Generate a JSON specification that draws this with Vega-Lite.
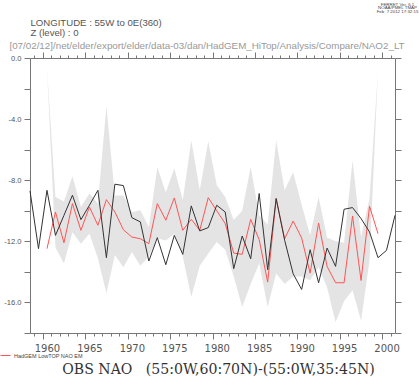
{
  "$schema": "https://vega.github.io/schema/vega-lite/v6.json",
  "width": 365,
  "height": 275,
  "autosize": "none",
  "padding": {"left": 30, "top": 58, "right": 24, "bottom": 44},
  "background": "white",
  "config": {"view": {"stroke": null}, "font": "Liberation Sans"},
  "data": {"values": [
    {"year": 1958, "obs": -8.70, "model": null, "upper": null, "lower": null},
    {"year": 1959, "obs": -12.48, "model": null, "upper": null, "lower": null},
    {"year": 1960, "obs": -8.66, "model": -12.48, "upper": -0.66, "lower": -0.66},
    {"year": 1961, "obs": -11.61, "model": -10.08, "upper": -9.1, "lower": -12.4},
    {"year": 1962, "obs": -10.3, "model": -12.09, "upper": -9.4, "lower": -13.45},
    {"year": 1963, "obs": -8.98, "model": -9.53, "upper": -7.74, "lower": -11.4},
    {"year": 1964, "obs": -10.58, "model": -11.28, "upper": -9.75, "lower": -12.15},
    {"year": 1965, "obs": -9.64, "model": -9.75, "upper": -8.87, "lower": -11.5},
    {"year": 1966, "obs": -8.66, "model": -10.95, "upper": -9.53, "lower": -13.1},
    {"year": 1967, "obs": -13.07, "model": -9.27, "upper": -3.15, "lower": -15.4},
    {"year": 1968, "obs": -8.26, "model": -10.08, "upper": -9.0, "lower": -12.9},
    {"year": 1969, "obs": -8.35, "model": -11.24, "upper": -9.0, "lower": -13.7},
    {"year": 1970, "obs": -10.45, "model": -11.72, "upper": -10.1, "lower": -12.7},
    {"year": 1971, "obs": -10.73, "model": -11.83, "upper": -9.97, "lower": -13.6},
    {"year": 1972, "obs": -13.29, "model": -12.15, "upper": -11.06, "lower": -13.0},
    {"year": 1973, "obs": -11.76, "model": -9.53, "upper": -7.13, "lower": -11.8},
    {"year": 1974, "obs": -13.53, "model": -10.62, "upper": -8.8, "lower": -11.95},
    {"year": 1975, "obs": -11.61, "model": -9.16, "upper": -7.24, "lower": -11.5},
    {"year": 1976, "obs": -12.85, "model": -11.28, "upper": -9.3, "lower": -13.0},
    {"year": 1977, "obs": -9.68, "model": -10.56, "upper": -5.4, "lower": -15.65},
    {"year": 1978, "obs": -11.32, "model": -11.28, "upper": -8.66, "lower": -13.6},
    {"year": 1979, "obs": -11.1, "model": -9.14, "upper": -5.45, "lower": -12.8},
    {"year": 1980, "obs": -9.64, "model": -10.0, "upper": -8.33, "lower": -12.05},
    {"year": 1981, "obs": -10.08, "model": -10.84, "upper": -9.1, "lower": -12.55},
    {"year": 1982, "obs": -13.79, "model": -12.77, "upper": -10.6, "lower": -14.3},
    {"year": 1983, "obs": -11.65, "model": -12.85, "upper": -10.0, "lower": -16.3},
    {"year": 1984, "obs": -13.14, "model": -10.56, "upper": -7.13, "lower": -14.8},
    {"year": 1985, "obs": -8.87, "model": -11.89, "upper": -10.3, "lower": -13.45},
    {"year": 1986, "obs": -13.86, "model": -14.67, "upper": -10.9, "lower": -16.3},
    {"year": 1987, "obs": -9.2, "model": -9.2, "upper": -5.38, "lower": -14.1},
    {"year": 1988, "obs": -11.93, "model": -11.83, "upper": -8.66, "lower": -14.8},
    {"year": 1989, "obs": -14.12, "model": -10.67, "upper": -7.48, "lower": -14.3},
    {"year": 1990, "obs": -15.15, "model": -11.78, "upper": -9.6, "lower": -14.3},
    {"year": 1991, "obs": -12.55, "model": -14.08, "upper": -11.6, "lower": -14.55},
    {"year": 1992, "obs": -14.71, "model": -10.8, "upper": -9.09, "lower": -13.7},
    {"year": 1993, "obs": -12.44, "model": -13.64, "upper": -11.75, "lower": -15.0},
    {"year": 1994, "obs": -13.64, "model": -14.71, "upper": -12.0, "lower": -17.3},
    {"year": 1995, "obs": -9.9, "model": -14.71, "upper": -12.1, "lower": -15.9},
    {"year": 1996, "obs": -9.79, "model": -10.34, "upper": -6.69, "lower": -15.2},
    {"year": 1997, "obs": -10.51, "model": -14.56, "upper": -11.7, "lower": -17.2},
    {"year": 1998, "obs": -11.39, "model": -9.7, "upper": -9.2, "lower": -13.25},
    {"year": 1999, "obs": -13.07, "model": -11.5, "upper": -0.79, "lower": -0.79},
    {"year": 2000, "obs": -12.59, "model": null, "upper": null, "lower": null},
    {"year": 2001, "obs": -10.3, "model": null, "upper": null, "lower": null}
  ]},
  "layer": [
    {
      "mark": {"type": "area", "color": "#e4e4e4"},
      "encoding": {
        "x": {
          "field": "year", "type": "quantitative",
          "scale": {"domain": [1958, 2001], "nice": false, "zero": false},
          "axis": {
            "orient": "bottom",
            "values": [1958.5,1959.5,1960.5,1961.5,1962.5,1963.5,1964.5,1965.5,1966.5,1967.5,1968.5,1969.5,1970.5,1971.5,1972.5,1973.5,1974.5,1975.5,1976.5,1977.5,1978.5,1979.5,1980.5,1981.5,1982.5,1983.5,1984.5,1985.5,1986.5,1987.5,1988.5,1989.5,1990.5,1991.5,1992.5,1993.5,1994.5,1995.5,1996.5,1997.5,1998.5,1999.5,2000.5],
            "labelExpr": "(datum.value + 0.5) % 5 == 0 ? '' + (datum.value + 0.5) : ''",
            "labelOverlap": false, "labelFlush": false, "labelBound": false,
            "labelOffset": 4.24, "labelPadding": 4,
            "labelFont": "DejaVu Sans", "labelFontSize": 10, "labelColor": "#555",
            "tickSize": {"condition": {"test": "(datum.value + 0.5) % 5 == 0", "value": 6}, "value": 3},
            "tickColor": "#777", "domainColor": "#777", "grid": false,
            "title": "OBS NAO\u00a0\u00a0\u00a0(55:0W,60:70N)-(55:0W,35:45N)",
            "titleFont": "DejaVu Serif", "titleFontSize": 14.1, "titleFontWeight": "normal",
            "titleColor": "#333", "titleX": 188, "titleY": 40, "titleAlign": "center", "titleBaseline": "alphabetic"
          }
        },
        "y": {
          "field": "upper", "type": "quantitative",
          "scale": {"domain": [-18, 0], "nice": false, "zero": false},
          "axis": {
            "orient": "left",
            "values": [-18,-16,-14,-12,-10,-8,-6,-4,-2,0],
            "labelExpr": "datum.value % 4 == 0 ? (datum.value < 0 ? '-' : '') + format(abs(datum.value), '.1f') : ''",
            "labelOverlap": false, "labelFlush": false, "labelBound": false,
            "labelFontSize": 7.6, "labelColor": "#555", "labelPadding": 3,
            "tickSize": 6, "tickColor": "#777", "domainColor": "#777", "grid": false,
            "title": ["LONGITUDE : 55W to 0E(360)", "Z (level) : 0"],
            "titleAngle": 0, "titleX": 0, "titleY": -33, "titleAlign": "left", "titleBaseline": "alphabetic",
            "titleFontSize": 9.6, "titleLineHeight": 10, "titleFontWeight": "normal", "titleColor": "#555"
          }
        },
        "y2": {"field": "lower"}
      }
    },
    {
      "mark": {"type": "line", "strokeWidth": 1},
      "encoding": {
        "x": {"field": "year", "type": "quantitative", "axis": null},
        "y": {"field": "model", "type": "quantitative", "axis": null},
        "color": {
          "datum": "HadGEM LowTOP NAO EM",
          "scale": {"range": ["#ff5555"]},
          "legend": {
            "orient": "none", "legendX": -30, "legendY": 292, "title": null, "padding": 0,
            "symbolType": "stroke", "symbolSize": 100, "symbolStrokeWidth": 1,
            "labelFontSize": 5.5, "labelColor": "#444", "labelOffset": 3
          }
        }
      }
    },
    {
      "mark": {"type": "line", "strokeWidth": 1, "color": "#333"},
      "encoding": {
        "x": {
          "field": "year", "type": "quantitative",
          "axis": {
            "orient": "top",
            "values": [1958.5,1959.5,1960.5,1961.5,1962.5,1963.5,1964.5,1965.5,1966.5,1967.5,1968.5,1969.5,1970.5,1971.5,1972.5,1973.5,1974.5,1975.5,1976.5,1977.5,1978.5,1979.5,1980.5,1981.5,1982.5,1983.5,1984.5,1985.5,1986.5,1987.5,1988.5,1989.5,1990.5,1991.5,1992.5,1993.5,1994.5,1995.5,1996.5,1997.5,1998.5,1999.5,2000.5],
            "labels": false,
            "tickSize": {"condition": {"test": "(datum.value + 0.5) % 5 == 0", "value": 6}, "value": 3},
            "tickColor": "#777", "domainColor": "#777", "grid": false,
            "title": "[07/02/12]/net/elder/export/elder/data-03/dan/HadGEM_HiTop/Analysis/Compare/NAO2_LT",
            "titleX": 176.5, "titleY": -10, "titleAlign": "center", "titleBaseline": "alphabetic",
            "titleFontSize": 9.8, "titleFontWeight": "normal", "titleColor": "#999"
          }
        },
        "y": {
          "field": "obs", "type": "quantitative",
          "axis": {
            "orient": "right",
            "values": [-18,-16,-14,-12,-10,-8,-6,-4,-2,0],
            "labels": false, "tickSize": 6, "tickColor": "#777", "domainColor": "#777", "grid": false,
            "title": ["FERRET Ver. 6.1", "NOAA/PMEL TMAP", "Feb\u00a0\u00a07 2012 17:32:15"],
            "titleAngle": 0, "titleX": 2, "titleY": -53, "titleAlign": "center", "titleBaseline": "alphabetic",
            "titleFontSize": 4.4, "titleLineHeight": 3.7, "titleFontWeight": "normal", "titleColor": "#444"
          }
        }
      }
    }
  ],
  "resolve": {"axis": {"x": "independent", "y": "independent"}}
}
